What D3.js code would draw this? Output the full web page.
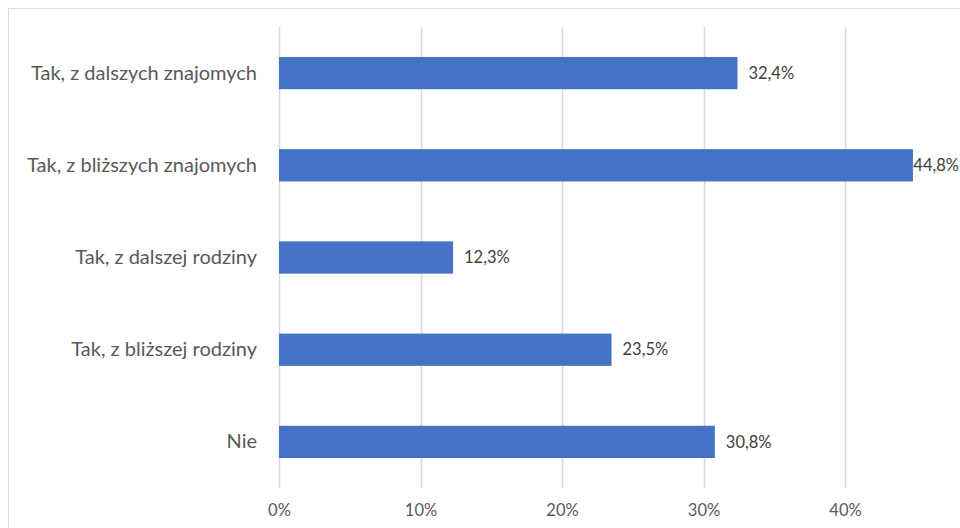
<!DOCTYPE html>
<html><head><meta charset="utf-8">
<script src="https://cdn.jsdelivr.net/npm/d3@7"></script>
<style>body{margin:0;background:#fff;}svg{display:block;font-family:Lato,"Open Sans",sans-serif;}</style>
</head><body>
<svg id="c" width="960" height="528"></svg>
<script>
const categories = ["Tak, z dalszych znajomych","Tak, z bliższych znajomych","Tak, z dalszej rodziny","Tak, z bliższej rodziny","Nie"];
const values = [32.4, 44.8, 12.3, 23.5, 30.8];
const ticks = [0, 10, 20, 30, 40];
const tickLabels = ["0%","10%","20%","30%","40%"];

const svg = d3.select("#c");
const W = 960, H = 528;
const x0 = 279, plotTop = 27, plotBottom = 488;
const x = d3.scaleLinear().domain([0, 40]).range([x0, 845]);
const y = d3.scaleBand().domain(categories).range([plotTop, plotBottom]).paddingInner(0.65).paddingOuter(0.325);

// border
svg.append("rect").attr("x", 8.5).attr("y", 8.5).attr("width", 970).attr("height", 540)
  .attr("fill", "none").attr("stroke", "#d9d9d9").attr("stroke-width", 1);

// gridlines
svg.append("g").selectAll("line").data(ticks).join("line")
  .attr("x1", d => Math.round(x(d)) + 0.5).attr("x2", d => Math.round(x(d)) + 0.5)
  .attr("y1", plotTop).attr("y2", plotBottom)
  .attr("stroke", "#d9d9d9").attr("stroke-width", 1.5);

// axis labels
const xAxis = d3.axisBottom(x).tickValues(ticks).tickFormat((d, i) => tickLabels[i]).tickSize(0).tickPadding(0);
const ax = svg.append("g").attr("transform", `translate(0,${plotBottom + 16})`).call(xAxis);
ax.select(".domain").remove();
ax.selectAll("text").attr("font-size", 16.5).attr("fill", "#595959").attr("font-family", "Lato, sans-serif").attr("dy", "0.71em");

// bars
svg.append("g").selectAll("rect").data(values).join("rect")
  .attr("x", x(0)).attr("y", (d, i) => y(categories[i]))
  .attr("width", d => x(d) - x(0)).attr("height", y.bandwidth())
  .attr("fill", "#4472c4");

// category labels
const yAxis = d3.axisLeft(y).tickSize(0).tickPadding(22);
const ay = svg.append("g").attr("transform", `translate(${x0},0)`).call(yAxis);
ay.select(".domain").remove();
ay.selectAll("text").attr("font-size", 20).attr("fill", "#595959").attr("font-family", "Lato, sans-serif");

// value labels
svg.append("g").selectAll("text").data(values).join("text")
  .attr("y", (d, i) => y(categories[i]) + y.bandwidth() / 2)
  .attr("dy", "0.35em").attr("font-size", 16.5).attr("fill", "#404040")
  .text(d => d.toFixed(1).replace(".", ",") + "%")
  .each(function(d) {
    const t = d3.select(this);
    const w = this.getComputedTextLength();
    let xx = x(d) + 11;
    if (xx + w > W - 1) xx = W - 1 - w;
    t.attr("x", xx);
  });
</script>
</body></html>
